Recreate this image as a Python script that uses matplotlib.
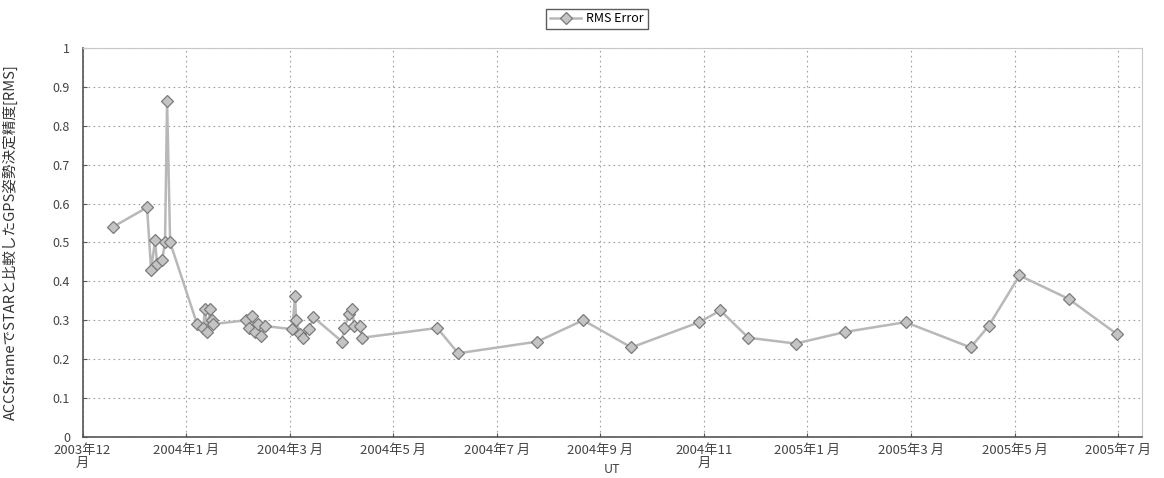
import numpy as np
import matplotlib
matplotlib.use('Agg')
import matplotlib.pyplot as plt

plt.rcParams['font.family'] = ['Noto Sans CJK JP', 'DejaVu Sans']

# days counted from 2003-12-01, ticks every 61 days
days = [18.0, 38.0, 40.4, 42.7, 43.9, 46.9, 48.6, 49.8, 51.6,
        67.5, 71.0, 72.2, 73.4, 75.1, 76.3, 76.9,
        96.4, 98.1, 99.9, 101.6, 103.4, 105.2, 107.5,
        123.5, 125.2, 125.8, 128.2, 130.0, 133.5, 135.9,
        152.9, 154.1, 157.1, 158.8, 160.0, 163.5, 164.7,
        208.9, 221.3, 267.9, 294.9, 323.3, 363.3, 375.7, 392.2,
        420.0, 449.4, 484.8, 523.1, 533.7, 551.9, 580.8, 609.1]
rms = [0.54, 0.59, 0.43, 0.505, 0.445, 0.455, 0.50, 0.864, 0.50,
       0.29, 0.28, 0.33, 0.27, 0.33, 0.30, 0.29,
       0.30, 0.28, 0.31, 0.27, 0.29, 0.26, 0.285,
       0.277, 0.362, 0.30, 0.265, 0.255, 0.278, 0.308,
       0.245, 0.28, 0.315, 0.33, 0.285, 0.285, 0.255,
       0.28, 0.215, 0.245, 0.30, 0.23, 0.295, 0.325, 0.255,
       0.24, 0.27, 0.295, 0.23, 0.285, 0.415, 0.355, 0.265]

tick_days = [0, 61, 122, 183, 244, 305, 366, 427, 488, 549, 610]
tick_labels = ['2003年12\n月', '2004年1 月', '2004年3 月', '2004年5 月',
               '2004年7 月', '2004年9 月', '2004年11\n月', '2005年1 月',
               '2005年3 月', '2005年5 月', '2005年7 月']

fig = plt.figure(figsize=(11.64, 4.78), dpi=100)
ax = fig.add_axes([0.0709, 0.086, 0.9101, 0.8136])

ax.plot(days, rms, color='#b8b8b8', lw=1.8, marker='D', markersize=6.3,
        markerfacecolor='#c4c4c4', markeredgecolor='#7a7a7a',
        markeredgewidth=0.9, label='RMS Error')

ax.set_xlim(0, 624)
ax.set_ylim(0, 1)
ax.set_xticks(tick_days)
ax.set_xticklabels(tick_labels, fontsize=9.5, color='#444444', linespacing=1.0)
ax.set_yticks(np.arange(0, 1.01, 0.1))
ax.set_yticklabels(['0'] + ['%.1f' % v for v in np.arange(0.1, 0.95, 0.1)] + ['1'],
                   fontsize=9, color='#444444')
ax.tick_params(direction='in', length=3, color='#555555')
ax.tick_params(axis='y', pad=9)
ax.tick_params(axis='x', pad=5)
ax.grid(True, ls=(0, (1.5, 3)), color='#a0a0a0', lw=0.8)

for s in ['left', 'bottom']:
    ax.spines[s].set_color('#555555')
    ax.spines[s].set_linewidth(1.2)
for s in ['top', 'right']:
    ax.spines[s].set_color('#c8c8c8')
    ax.spines[s].set_linewidth(0.8)

ax.set_xlabel('UT', fontsize=9, color='#444444', labelpad=-5)
ax.set_ylabel('ACCSframeでSTARと比較したGPS姿勢決定精度[RMS]', fontsize=10.5,
              color='#333333')
ax.yaxis.set_label_coords(-0.061, 0.5)

leg = fig.legend(loc='upper center', bbox_to_anchor=(0.513, 0.995), fontsize=9,
                 frameon=True, fancybox=False, handlelength=2.5,
                 borderpad=0.3, handletextpad=0.4)
leg.get_frame().set_edgecolor('#333333')
leg.get_frame().set_linewidth(1.0)

fig.savefig('out.png', dpi=100)
